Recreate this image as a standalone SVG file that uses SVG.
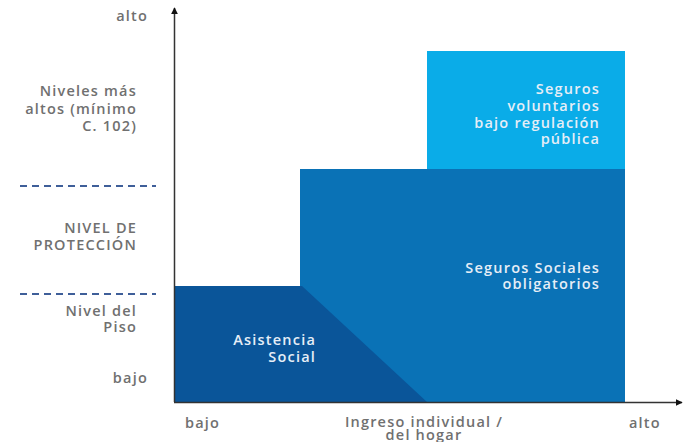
<svg xmlns="http://www.w3.org/2000/svg" width="687" height="442" viewBox="0 0 687 442">
<style>
.lbl{font-family:"Open Sans","Liberation Sans",sans-serif;font-size:14.5px;letter-spacing:1.2px;font-weight:600;fill:#707070;}
.in{font-family:"Open Sans","Liberation Sans",sans-serif;font-size:14.5px;letter-spacing:1.2px;font-weight:600;fill:#e6eef7;}
.dash{stroke:#3f5f99;stroke-width:2;stroke-dasharray:7,5;fill:none;}
.ax{stroke:#333;stroke-width:1.5;fill:none;}
</style>
<defs>
<marker id="ah" viewBox="0 0 10 10" refX="9" refY="5" markerWidth="7" markerHeight="7" markerUnits="userSpaceOnUse" orient="auto">
<path d="M0,0 L10,5 L0,10 z" fill="#111"/>
</marker>
</defs>
<rect width="687" height="442" fill="#fff"/>
<g id="seguros-sociales">
<rect x="300" y="169" width="325" height="233" fill="#0a72b6"/>
<text class="in" text-anchor="end"><tspan x="600" y="273">Seguros Sociales</tspan><tspan x="600" y="289">obligatorios</tspan></text>
</g>
<g id="seguros-voluntarios">
<rect x="427" y="51" width="198" height="118" fill="#0aace8"/>
<text class="in" text-anchor="end"><tspan x="600" y="94">Seguros</tspan><tspan x="600" y="111">voluntarios</tspan><tspan x="600" y="127.5">bajo regulación</tspan><tspan x="600" y="144">pública</tspan></text>
</g>
<g id="asistencia-social">
<polygon points="175,286 302,286 427,402 175,402" fill="#0a5599"/>
<text class="in" text-anchor="end"><tspan x="316" y="345">Asistencia</tspan><tspan x="316" y="362">Social</tspan></text>
</g>
<g id="connectors">
<line class="ax" x1="174.5" y1="402" x2="174.5" y2="8" marker-end="url(#ah)"/>
<line class="ax" x1="174" y1="402.5" x2="682" y2="402.5" marker-end="url(#ah)"/>
<line class="dash" x1="20" y1="186" x2="156" y2="186"/>
<line class="dash" x1="20" y1="294" x2="156" y2="294"/>
</g>
<g id="labels">
<text class="lbl" x="148" y="21" text-anchor="end">alto</text>
<text class="lbl" text-anchor="end"><tspan x="137" y="96">Niveles más</tspan><tspan x="137" y="113.5">altos (mínimo</tspan><tspan x="137" y="131">C. 102)</tspan></text>
<text class="lbl" text-anchor="end"><tspan x="137" y="233">NIVEL DE</tspan><tspan x="137" y="250">PROTECCIÓN</tspan></text>
<text class="lbl" text-anchor="end"><tspan x="137" y="316">Nivel del</tspan><tspan x="137" y="332">Piso</tspan></text>
<text class="lbl" x="148" y="383" text-anchor="end">bajo</text>
<text class="lbl" x="185" y="428">bajo</text>
<text class="lbl" text-anchor="middle"><tspan x="424" y="427">Ingreso individual /</tspan><tspan x="424" y="440">del hogar</tspan></text>
<text class="lbl" x="629" y="428">alto</text>
</g>
</svg>
